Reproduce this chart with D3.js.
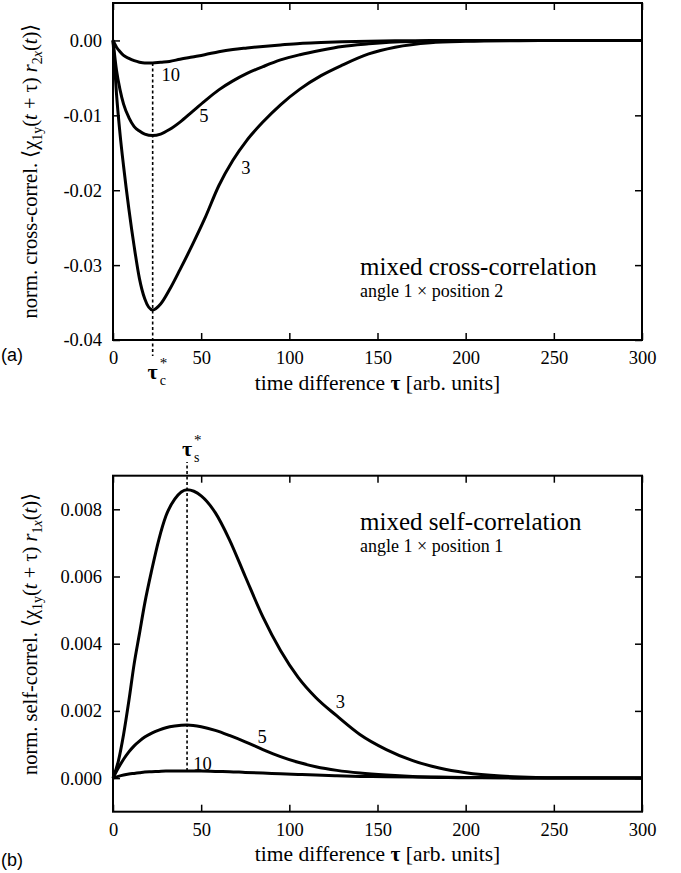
<!DOCTYPE html>
<html>
<head>
<meta charset="utf-8">
<script src="https://cdn.jsdelivr.net/npm/d3@7/dist/d3.min.js"></script>
<style>
  html, body { margin: 0; padding: 0; background: #fff; }
  svg { display: block; }
  svg text { font-family: "Liberation Serif", "Times New Roman", serif; }
  svg text.tag { font-family: "Liberation Sans", Arial, sans-serif; }
</style>
</head>
<body>
<svg id="chart" width="681" height="873"></svg>
<script>
// ---- values ----
var tauTicks = [0, 50, 100, 150, 200, 250, 300];
var tauTickLabels = ['0', '50', '100', '150', '200', '250', '300'];

var crossTicks = [-0.04, -0.03, -0.02, -0.01, 0];
var crossTickLabels = ['-0.04', '-0.03', '-0.02', '-0.01', '0.00'];
var selfTicks = [0, 0.002, 0.004, 0.006, 0.008];
var selfTickLabels = ['0.000', '0.002', '0.004', '0.006', '0.008'];

// (a) mixed cross-correlation, curves labelled 3, 5, 10
var crossTau = [0, 2, 4, 6, 9, 12, 15, 18, 22.5, 27, 32, 38, 45, 52, 60, 68, 76, 85, 95, 106, 118, 130, 145, 160, 180, 200, 230, 260, 300];
var cross3  = [0, -0.0072, -0.0125, -0.0168, -0.0225, -0.0275, -0.0318, -0.0345, -0.0360, -0.0352, -0.0333, -0.0306, -0.0273, -0.0238, -0.0194, -0.0160, -0.0133, -0.0109, -0.0086, -0.0065, -0.0047, -0.0033, -0.0018, -0.0009, -0.0003, -0.00012, -0.00003, 0, 0];
var cross5  = [0, -0.0040, -0.0066, -0.0085, -0.0103, -0.0115, -0.0121, -0.0125, -0.0127, -0.0125, -0.0119, -0.0109, -0.0095, -0.0081, -0.0066, -0.0054, -0.0044, -0.0035, -0.0026, -0.0019, -0.0013, -0.0008, -0.00045, -0.0002, -0.00008, -0.00003, 0, 0, 0];
var cross10 = [0, -0.0009, -0.0015, -0.0020, -0.0024, -0.0027, -0.0029, -0.0030, -0.0030, -0.0029, -0.0028, -0.0025, -0.0022, -0.0019, -0.0015, -0.0012, -0.0010, -0.0008, -0.0006, -0.0004, -0.00028, -0.00018, -0.0001, -0.00005, -0.00002, 0, 0, 0, 0];

// (b) mixed self-correlation
var selfTau = [0, 3, 6, 9, 12, 15, 18, 22, 26, 30, 35, 42, 50, 58, 66, 75, 85, 95, 105, 115, 127, 140, 155, 170, 185, 200, 220, 240, 260, 300];
var self3  = [0, 0.0005, 0.0013, 0.0023, 0.0034, 0.0043, 0.0052, 0.0062, 0.0071, 0.0078, 0.0083, 0.00858, 0.0084, 0.0079, 0.0071, 0.0060, 0.0048, 0.0038, 0.0030, 0.0024, 0.00185, 0.0013, 0.00085, 0.00052, 0.0003, 0.00016, 0.00006, 0.00002, 0.00001, 0];
var self5  = [0, 0.0003, 0.00056, 0.00078, 0.00096, 0.0011, 0.00122, 0.00134, 0.00143, 0.0015, 0.00155, 0.00158, 0.00153, 0.00142, 0.00127, 0.00108, 0.00085, 0.00064, 0.00047, 0.00034, 0.00023, 0.00015, 0.00009, 0.00005, 0.00003, 0.00002, 0.00001, 0, 0, 0];
var self10 = [0, 0.00005, 0.00009, 0.00012, 0.00014, 0.00016, 0.00018, 0.00019, 0.0002, 0.00021, 0.00021, 0.00021, 0.00021, 0.0002, 0.00019, 0.00017, 0.00015, 0.00013, 0.00011, 0.00009, 0.00007, 0.00005, 0.00004, 0.00003, 0.00002, 0.00001, 0.00001, 0, 0, 0];

var curveNames = ['3', '5', '10'];
var tauC = 22.5, tauS = 42;

// where the curve numbers sit, in data units [tau, value]
var crossLabelAt = [[75.4, -0.0179], [51.6, -0.0109], [32.7, -0.0054]];
var selfLabelAt  = [[129, 0.0021], [84.5, 0.00104], [50.8, 0.00024]];

var svg = d3.select('#chart');
var X0 = 113, X1 = 642;

function panel(o) {
  var x = d3.scaleLinear().domain([0, 300]).range([X0, X1]);
  var y = d3.scaleLinear().domain(o.yDomain).range([o.bottom, o.top]);
  var g = svg.append('g');

  var styleAxis = function (sel) {
    sel.attr('font-family', null).attr('font-size', null);
    sel.select('.domain').remove();
    sel.selectAll('.tick line').attr('stroke', '#000').attr('stroke-width', 1.5);
    sel.selectAll('.tick text').style('font-size', '18.5px').attr('fill', '#000');
  };

  g.append('g').attr('transform', 'translate(0,' + o.bottom + ')')
    .call(d3.axisBottom(x).tickValues(tauTicks).tickFormat(function (d, i) { return tauTickLabels[i]; })
      .tickSizeInner(-7).tickSizeOuter(0).tickPadding(11))
    .call(styleAxis);
  g.append('g').attr('transform', 'translate(0,' + o.top + ')')
    .call(d3.axisTop(x).tickValues(tauTicks).tickFormat('').tickSizeInner(-7).tickSizeOuter(0))
    .call(styleAxis);
  g.append('g').attr('transform', 'translate(' + X0 + ',0)')
    .call(d3.axisLeft(y).tickValues(o.ticks).tickFormat(function (d, i) { return o.tickLabels[i]; })
      .tickSizeInner(-7).tickSizeOuter(0).tickPadding(11))
    .call(styleAxis);
  g.append('g').attr('transform', 'translate(' + X1 + ',0)')
    .call(d3.axisRight(y).tickValues(o.ticks).tickFormat('').tickSizeInner(-7).tickSizeOuter(0))
    .call(styleAxis);

  g.append('rect').attr('x', X0).attr('y', o.top).attr('width', X1 - X0).attr('height', o.bottom - o.top)
    .attr('fill', 'none').attr('stroke', '#000').attr('stroke-width', 2);

  // dotted marker line
  var mi = o.tau.indexOf(o.marker);
  var yCurve = y(o.series[2][mi]);
  g.append('line').attr('x1', x(o.marker)).attr('x2', x(o.marker))
    .attr('y1', yCurve).attr('y2', o.markerEnd)
    .attr('stroke', '#000').attr('stroke-width', 1.6).attr('stroke-dasharray', '3,2.5');

  var line = d3.line().x(function (d) { return x(d[0]); }).y(function (d) { return y(d[1]); })
    .curve(d3.curveMonotoneX);
  o.series.forEach(function (vals) {
    g.append('path').datum(o.tau.map(function (t, i) { return [t, vals[i]]; }))
      .attr('d', line).attr('fill', 'none').attr('stroke', '#000').attr('stroke-width', 3)
      .attr('stroke-linejoin', 'round');
  });

  curveNames.forEach(function (n, i) {
    g.append('text').attr('x', x(o.labelAt[i][0])).attr('y', y(o.labelAt[i][1]))
      .attr('text-anchor', 'middle').attr('font-size', 18.5).text(n);
  });

  // tau* marker label
  var mx = x(o.marker);
  g.append('text').attr('x', mx).attr('y', o.tauY).attr('text-anchor', 'middle')
    .attr('font-size', 22).attr('font-weight', 'bold').text('τ');
  g.append('text').attr('x', mx + 7).attr('y', o.tauY - 11).attr('font-size', 15).text('*');
  g.append('text').attr('x', mx + 7).attr('y', o.tauY + 6).attr('font-size', 14).text(o.markerSub);

  // annotation
  g.append('text').attr('x', 360).attr('y', o.noteY).attr('font-size', 25).text(o.note);
  g.append('text').attr('x', 360).attr('y', o.noteY + 22).attr('font-size', 18).text(o.note2);

  // x title
  var xt = g.append('text').attr('x', (X0 + X1) / 2).attr('y', o.xTitleY).attr('text-anchor', 'middle').attr('font-size', 21.5);
  xt.append('tspan').text('time difference ');
  xt.append('tspan').attr('font-weight', 'bold').text('τ');
  xt.append('tspan').text(' [arb. units]');

  // y title
  var yt = g.append('text').attr('transform', 'translate(37,' + o.yTitleY + ') rotate(-90)')
    .attr('text-anchor', 'middle').attr('font-size', 20.5);
  yt.append('tspan').text(o.yTitle + ' \u27e8χ');
  yt.append('tspan').attr('font-size', 14).attr('dy', 5).text('1y');
  yt.append('tspan').attr('dy', -5).text('(');
  yt.append('tspan').attr('font-style', 'italic').text('t');
  yt.append('tspan').text(' + τ) ');
  yt.append('tspan').attr('font-style', 'italic').text('r');
  yt.append('tspan').attr('font-size', 14).attr('dy', 5).text(o.rSub[0]);
  yt.append('tspan').attr('font-size', 14).attr('font-style', 'italic').text(o.rSub[1]);
  yt.append('tspan').attr('dy', -5).text('(');
  yt.append('tspan').attr('font-style', 'italic').text('t');
  yt.append('tspan').text(')\u27e9');

  svg.append('text').attr('class', 'tag').attr('x', 1).attr('y', o.tagY)
    .attr('font-size', 18).text(o.tag);
}

panel({
  yDomain: [-0.04, 0.005], top: 3, bottom: 340,
  ticks: crossTicks, tickLabels: crossTickLabels,
  tau: crossTau, series: [cross3, cross5, cross10], labelAt: crossLabelAt,
  marker: tauC, markerEnd: 356, markerSub: 'c', tauY: 379,
  note: 'mixed cross-correlation', note2: 'angle 1 × position 2', noteY: 275,
  xTitleY: 390, yTitle: 'norm. cross-correl.', yTitleY: 171, rSub: ['2', 'x'], tag: '(a)', tagY: 361
});

panel({
  yDomain: [-0.001, 0.009], top: 475.7, bottom: 811.7,
  ticks: selfTicks, tickLabels: selfTickLabels,
  tau: selfTau, series: [self3, self5, self10], labelAt: selfLabelAt,
  marker: tauS, markerEnd: 462, markerSub: 's', tauY: 456,
  note: 'mixed self-correlation', note2: 'angle 1 × position 1', noteY: 530,
  xTitleY: 861, yTitle: 'norm. self-correl.', yTitleY: 634, rSub: ['1', 'x'], tag: '(b)', tagY: 866
});
</script>
</body>
</html>
